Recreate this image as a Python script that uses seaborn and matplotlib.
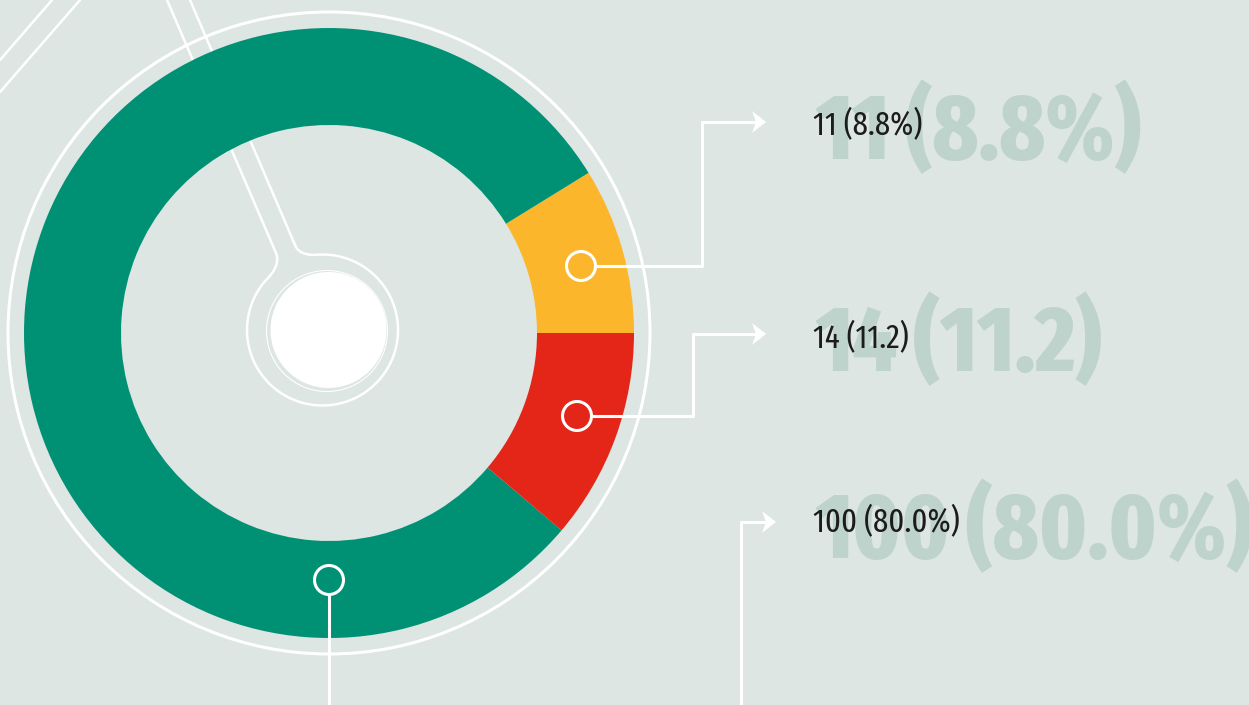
import numpy as np
import matplotlib
matplotlib.use("Agg")
import matplotlib.pyplot as plt
from matplotlib.patches import Circle, Polygon
import seaborn as sns

# wedge order: starts at 3 o'clock and goes anticlockwise on screen
categories = ["yellow", "green", "red"]
counts = [11, 100, 14]
value_labels = ["11 (8.8%)", "100 (80.0%)", "14 (11.2)"]
palette = ["#fbb62c", "#009175", "#e42618"]

bg = "#dde6e2"
ghost = "#bfd3cd"
white = "#ffffff"

sns.set_theme(style="white", rc={"axes.facecolor": bg, "figure.facecolor": bg})
plt.rcParams["font.family"] = ["Fira Sans Extra Condensed", "Fira Sans Condensed", "DejaVu Sans"]

fig = plt.figure(figsize=(12.49, 7.05), dpi=100)
ax = fig.add_axes([0, 0, 1, 1])

cx, cy = 329, 333
# y axis is flipped below, so clockwise in data = anticlockwise on screen
ax.pie(counts, colors=palette, startangle=0, counterclock=False,
       center=(cx, cy), radius=305,
       wedgeprops=dict(width=97, linewidth=0, zorder=2), frame=True)
ax.set_xlim(0, 1249)
ax.set_ylim(705, 0)
ax.set_aspect("auto")
ax.axis("off")

lw = 2.2
thin = 1.8

# outer thin ring
ax.add_patch(Circle((cx, cy), 321, fill=False, ec=white, lw=lw, zorder=1))

# decorative diagonals top-left
ax.plot([0, 52], [60, 0], color=white, lw=thin, zorder=1)
ax.plot([0, 80], [92, 0], color=white, lw=thin, zorder=1)


def bez(p0, p1, p2, n=20):
    t = np.linspace(0, 1, n)[:, None]
    p0, p1, p2 = map(np.array, (p0, p1, p2))
    pts = (1 - t) ** 2 * p0 + 2 * (1 - t) * t * p1 + t ** 2 * p2
    return pts[:, 0], pts[:, 1]


def ring_pt(a):
    return kx + kr * np.cos(np.radians(a)), ky - kr * np.sin(np.radians(a))


# keyhole outline around the centre (runs under the donut)
kx, ky, kr = 322.5, 330, 75.5
ang = np.radians(np.linspace(140, 456, 300))
ax.plot(kx + kr * np.cos(ang), ky - kr * np.sin(ang), color=white, lw=thin, zorder=1)
ax.plot([167, 276], [0, 253], color=white, lw=thin, zorder=1)
bx, by = bez((276, 253), (281, 266), ring_pt(140))
ax.plot(bx, by, color=white, lw=thin, zorder=1)
ax.plot([190, 295], [0, 245], color=white, lw=thin, zorder=1)
bx, by = bez((295, 245), (299, 255), ring_pt(96))
ax.plot(bx, by, color=white, lw=thin, zorder=1)

# centre disc
ax.add_patch(Circle((327, 331), 60.5, fill=False, ec=white, lw=0.8, zorder=3))
ax.add_patch(Circle((328.5, 330), 58, fc=white, ec="none", zorder=3))

# connectors: marker circle, elbow line, arrow head
connectors = {
    "yellow": dict(dot=(581, 266), path=[[(596, 266), (702, 266), (702, 122), (766, 122)]]),
    "red": dict(dot=(577, 416), path=[[(592, 416), (693, 416), (693, 334), (766, 334)]]),
    "green": dict(dot=(329, 580), path=[[(329, 595), (329, 705)],
                                        [(741, 705), (741, 522), (776, 522)]]),
}
for name in categories:
    c = connectors[name]
    ax.add_patch(Circle(c["dot"], 14.5, fill=False, ec=white, lw=lw, zorder=5))
    for seg in c["path"]:
        xs, ys = map(list, zip(*seg))
        tx, ty = xs[-1], ys[-1]
        arrow = ty < 705
        if arrow:
            xs[-1] = tx - 8
        ax.plot(xs, ys, color=white, lw=lw, zorder=5, solid_capstyle="butt")
        if arrow:
            ax.add_patch(Polygon([(tx, ty), (tx - 14, ty - 11), (tx - 10, ty),
                                  (tx - 14, ty + 11)], closed=True,
                                 fc=white, ec="none", zorder=5))

# labels: big ghost text behind a smaller dark one
rows = {"yellow": (135, 159), "red": (348, 371), "green": (532, 558)}
for name, lab in zip(categories, value_labels):
    small_y, big_y = rows[name]
    ax.text(816, big_y, lab, fontsize=67, fontweight=800, color=ghost,
            ha="left", va="baseline", zorder=2)
    ax.text(813, small_y, lab, fontsize=24, color="#1c1c1c",
            ha="left", va="baseline", zorder=3)

fig.savefig("out.png", dpi=100, facecolor=bg)
